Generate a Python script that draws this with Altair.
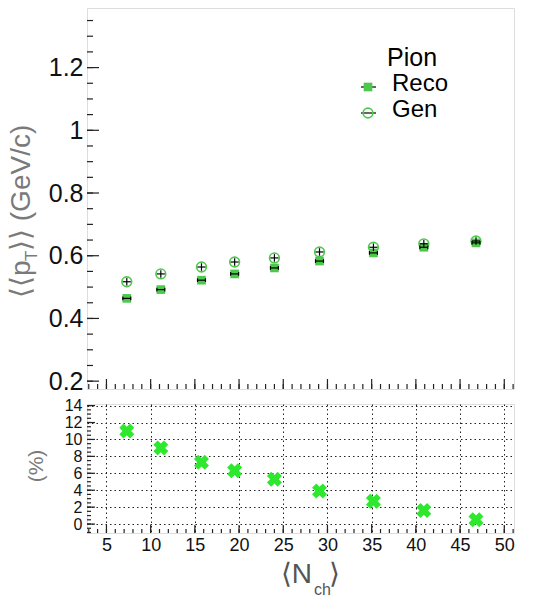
import altair as alt
import pandas as pd

# ---- data ----
nch = [7.3, 11.15, 15.75, 19.5, 24.0, 29.1, 35.2, 40.9, 46.8]
reco = [0.464, 0.492, 0.522, 0.542, 0.561, 0.583, 0.609, 0.627, 0.641]
gen = [0.517, 0.542, 0.564, 0.580, 0.593, 0.612, 0.627, 0.638, 0.647]
diff_pct = [11.0, 9.0, 7.3, 6.3, 5.3, 3.9, 2.7, 1.6, 0.5]
x_err = 0.45
reco_err = 0.006
gen_err = 0.012

x_major = [5, 10, 15, 20, 25, 30, 35, 40, 45, 50]
x_minor = list(range(3, 52))
top_y_major = [0.2, 0.4, 0.6, 0.8, 1.0, 1.2]
top_y_minor = [round(0.2 + 0.05 * i, 2) for i in range(24)]
bot_y_major = [0, 2, 4, 6, 8, 10, 12, 14]
bot_y_minor = [-1 + 0.5 * i for i in range(31)]

GREEN = "#4cc94c"
XGREEN = "#2ee82e"
FONT = "Liberation Sans"

W = 427
H_TOP = 381
H_BOT = 129

xs = alt.Scale(domain=[2.8, 51.1], nice=False, zero=False)
ys_top = alt.Scale(domain=[0.175, 1.39], nice=False, zero=False)
ys_bot = alt.Scale(domain=[-1.06, 14.19], nice=False, zero=False)

top_yaxis = alt.Axis(values=top_y_major, format=".1~f", labelFontSize=25, labelFont=FONT,
                     labelColor="#111", labelPadding=4, ticks=False, domain=False,
                     grid=False, title=None)
X_top = lambda f: alt.X(f, type="quantitative", scale=xs, axis=None)
Y_top = lambda f: alt.Y(f, type="quantitative", scale=ys_top, axis=top_yaxis)

pts = pd.DataFrame({"x": nch, "reco": reco, "gen": gen, "d": diff_pct})
pts["xlo"] = pts["x"] - x_err
pts["xhi"] = pts["x"] + x_err
pts["rlo"] = pts["reco"] - reco_err
pts["rhi"] = pts["reco"] + reco_err
pts["glo"] = pts["gen"] - gen_err
pts["ghi"] = pts["gen"] + gen_err

dummy = pd.DataFrame({"a": [0]})

# ticks (inside frame, ROOT style)
ty_maj = alt.Chart(pd.DataFrame({"v": top_y_major})).mark_rule(color="#222", strokeWidth=1.2).encode(
    y=Y_top("v"), x=alt.value(0), x2=alt.value(12))
ty_min = alt.Chart(pd.DataFrame({"v": top_y_minor})).mark_rule(color="#222", strokeWidth=1.2).encode(
    y=Y_top("v"), x=alt.value(0), x2=alt.value(6))
tx_maj = alt.Chart(pd.DataFrame({"v": x_major})).mark_rule(color="#222", strokeWidth=1.2).encode(
    x=X_top("v"), y=alt.value(H_TOP), y2=alt.value(H_TOP - 10))
tx_min = alt.Chart(pd.DataFrame({"v": x_minor})).mark_rule(color="#222", strokeWidth=1.2).encode(
    x=X_top("v"), y=alt.value(H_TOP), y2=alt.value(H_TOP - 5))

base = alt.Chart(pts)
gen_pt = base.mark_point(shape="circle", filled=False, color=GREEN, strokeWidth=1.6, size=95, opacity=1).encode(
    x=X_top("x"), y=Y_top("gen"))
reco_pt = base.mark_square(color=GREEN, size=75, opacity=1).encode(
    x=X_top("x"), y=Y_top("reco"))
gen_h = base.mark_rule(color="black", strokeWidth=1.2).encode(x=X_top("xlo"), x2="xhi", y=Y_top("gen"))
gen_v = base.mark_rule(color="black", strokeWidth=1.2).encode(x=X_top("x"), y=Y_top("glo"), y2="ghi")
reco_h = base.mark_rule(color="black", strokeWidth=1.2).encode(x=X_top("xlo"), x2="xhi", y=Y_top("reco"))
reco_c1 = base.mark_rule(color="black", strokeWidth=1.2).encode(x=X_top("xlo"), y=Y_top("rlo"), y2="rhi")
reco_c2 = base.mark_rule(color="black", strokeWidth=1.2).encode(x=X_top("xhi"), y=Y_top("rlo"), y2="rhi")

# legend
def txt(s, x, y, size, color="black", angle=0, align="left"):
    return alt.Chart(dummy).mark_text(text=s, font=FONT, fontSize=size, color=color, angle=angle,
                                      align=align, baseline="alphabetic").encode(
        x=alt.value(x), y=alt.value(y))

leg_pion = txt("Pion", 300, 58, 25)
leg_reco = txt("Reco", 305, 83, 24)
leg_gen = txt("Gen", 305, 109, 24)
leg_line1 = alt.Chart(dummy).mark_rule(color="black", strokeWidth=1.2).encode(
    x=alt.value(274), x2=alt.value(289), y=alt.value(79))
leg_line2 = alt.Chart(dummy).mark_rule(color="black", strokeWidth=1.2).encode(
    x=alt.value(274), x2=alt.value(289), y=alt.value(105))
leg_sq = alt.Chart(dummy).mark_square(color=GREEN, size=75, opacity=1).encode(
    x=alt.value(281), y=alt.value(79))
leg_ci = alt.Chart(dummy).mark_point(shape="circle", filled=False, color=GREEN, strokeWidth=1.6,
                                     size=95, opacity=1).encode(x=alt.value(281), y=alt.value(105))

# y title (rotated, with subscript)
TC = "#7a7a7a"
yt1 = txt("⟨⟨p", -57, 290, 28, TC, 270)
yt2 = txt("T", -50, 253, 17, TC, 270)
yt3 = txt("⟩⟩ (GeV/c)", -57, 243, 28, TC, 270)

top = alt.layer(ty_maj, ty_min, tx_maj, tx_min, gen_pt, reco_pt, gen_h, gen_v, reco_h, reco_c1, reco_c2,
                leg_line1, leg_line2, leg_sq, leg_ci, leg_pion, leg_reco, leg_gen, yt1, yt2, yt3
                ).properties(width=W, height=H_TOP)

# ---- bottom panel ----
bot_xaxis = alt.Axis(values=x_major, labelFontSize=18, labelFont=FONT, labelColor="#111", labelPadding=3,
                     ticks=False, domain=False, grid=True, gridDash=[1.5, 3], gridColor="#222",
                     gridOpacity=1, gridWidth=1, title=None, labelFlush=False)
bot_yaxis = alt.Axis(values=bot_y_major, labelFontSize=16, labelFont=FONT, labelColor="#111", labelPadding=5,
                     ticks=False, domain=False, grid=True, gridDash=[1.5, 3], gridColor="#222",
                     gridOpacity=1, gridWidth=1, title=None, labelOverlap=False)
X_bot = lambda f: alt.X(f, type="quantitative", scale=xs, axis=bot_xaxis)
Y_bot = lambda f: alt.Y(f, type="quantitative", scale=ys_bot, axis=bot_yaxis)

by_maj = alt.Chart(pd.DataFrame({"v": bot_y_major})).mark_rule(color="#222", strokeWidth=1.2).encode(
    y=Y_bot("v"), x=alt.value(0), x2=alt.value(8))
by_min = alt.Chart(pd.DataFrame({"v": bot_y_minor})).mark_rule(color="#222", strokeWidth=1.2).encode(
    y=Y_bot("v"), x=alt.value(0), x2=alt.value(4))
bx_maj = alt.Chart(pd.DataFrame({"v": x_major})).mark_rule(color="#222", strokeWidth=1.2).encode(
    x=X_bot("v"), y=alt.value(H_BOT), y2=alt.value(H_BOT - 8))
bx_min = alt.Chart(pd.DataFrame({"v": x_minor})).mark_rule(color="#222", strokeWidth=1.2).encode(
    x=X_bot("v"), y=alt.value(H_BOT), y2=alt.value(H_BOT - 4))

crosses = base.mark_point(shape="cross", filled=True, angle=45, color=XGREEN, size=230, opacity=1).encode(
    x=X_bot("x"), y=Y_bot("d"))

pct_title = txt("(%)", -44, 62, 21, TC, 270, "center")
xt1 = txt("⟨N", 225, 179, 28, "#555", 0, "right")
xt2 = txt("ch", 227, 191, 16, "#555", 0, "left")
xt3 = txt("⟩", 242, 179, 28, "#555", 0, "left")

bottom = alt.layer(by_maj, by_min, bx_maj, bx_min, crosses, pct_title, xt1, xt2, xt3
                   ).properties(width=W, height=H_BOT)

chart = alt.vconcat(top, bottom, spacing=2).properties(
    padding={"left": 7, "top": 7, "right": 5, "bottom": 2}
).configure_view(stroke="#222", strokeWidth=1.5).configure(background="white")

chart.save("out.html", embed_options={"renderer": "svg", "actions": False})
